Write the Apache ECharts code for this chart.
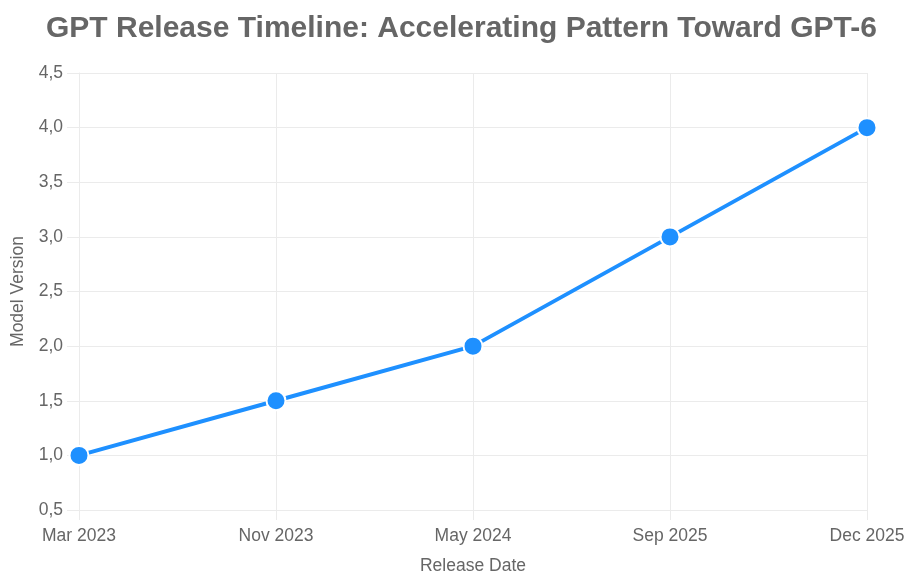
<!DOCTYPE html>
<html><head><meta charset="utf-8">
<script src="https://cdn.jsdelivr.net/npm/echarts@6/dist/echarts.min.js"></script>
<style>html,body{margin:0;padding:0;background:#fff}#c{width:910px;height:586px}</style>
</head><body><div id="c"></div>
<script>
const categories = ['Mar 2023', 'Nov 2023', 'May 2024', 'Sep 2025', 'Dec 2025'];
const versions = [1.0, 1.5, 2.0, 3.0, 4.0];
const yMin = 0.5, yMax = 4.5, yStep = 0.5;

const font = 'Liberation Sans, Arial, Helvetica, sans-serif';
const gridColor = '#ebebeb';
const chart = echarts.init(document.getElementById('c'));
chart.setOption({
  animation: false,
  title: {
    text: 'GPT Release Timeline: Accelerating Pattern Toward GPT-6',
    left: 41, top: 9,
    textStyle: { fontFamily: font, fontSize: 30, fontWeight: 'bold', color: '#666' }
  },
  grid: { left: 79, right: 43, top: 73, bottom: 76 },
  xAxis: {
    type: 'category', data: categories, boundaryGap: false,
    name: 'Release Date', nameLocation: 'middle', nameGap: 47,
    nameTextStyle: { fontFamily: font, fontSize: 17.5, color: '#666' },
    axisLine: { lineStyle: { color: gridColor } },
    axisTick: { show: true, length: 10, lineStyle: { color: gridColor } },
    axisLabel: { fontFamily: font, fontSize: 17.5, color: '#666', margin: 17 },
    splitLine: { show: true, lineStyle: { color: gridColor } }
  },
  yAxis: {
    type: 'value', min: yMin, max: yMax, interval: yStep,
    name: 'Model Version', nameLocation: 'middle', nameGap: 52,
    nameTextStyle: { fontFamily: font, fontSize: 17.5, color: '#666' },
    axisLine: { show: true, lineStyle: { color: gridColor } },
    axisTick: { show: true, length: 12, lineStyle: { color: gridColor } },
    axisLabel: { fontFamily: font, fontSize: 17.5, color: '#666', margin: 16,
      formatter: v => v.toFixed(1).replace('.', ',') },
    splitLine: { show: true, lineStyle: { color: gridColor } }
  },
  series: [{
    type: 'line', data: versions,
    lineStyle: { color: '#1e90ff', width: 4 },
    itemStyle: { color: '#1e90ff', borderColor: '#fff', borderWidth: 2 },
    symbol: 'circle', symbolSize: 19
  }]
});
</script></body></html>
